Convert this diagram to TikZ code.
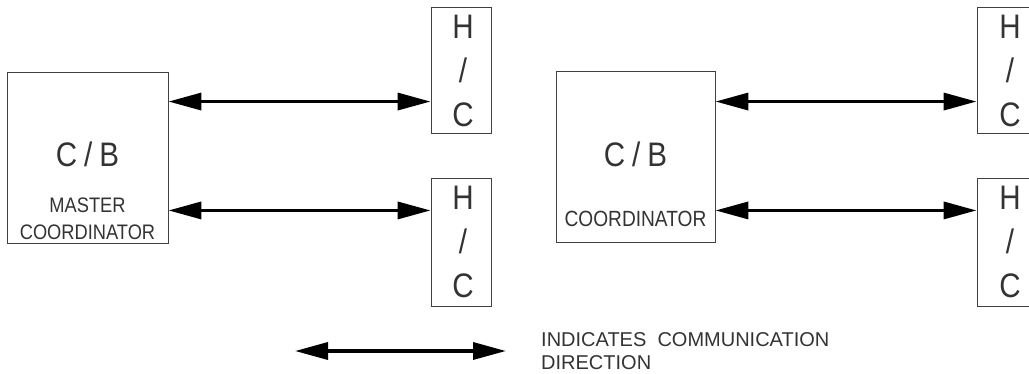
\documentclass[tikz,border=0pt]{standalone}
\usepackage{fontspec}
\setmainfont{Liberation Sans}[FakeStretch=0.87]
\newfontfamily\legfont{Liberation Sans}
\usetikzlibrary{arrows.meta}

\tikzset{
  box/.style={draw=black!75, line width=0.9pt, inner sep=0pt},
  comm/.style={line width=3.5pt,
    {Triangle[length=33pt,width=17pt]}-{Triangle[length=33pt,width=17pt]}},
  txt/.style={text=black!80, inner sep=0pt, font=\fontsize{21}{24}\selectfont},
  bigtxt/.style={text=black!80, inner sep=0pt, align=center,
    font=\fontsize{34}{44}\selectfont},
}

\begin{document}
\begin{tikzpicture}[x=1pt,y=-1pt]
    \useasboundingbox (0,0) rectangle (1029,374);
    % C/B boxes
    \node[box, minimum width=161pt, minimum height=171pt] (cbm) at (87.5,157.5) {};
    \node[box, minimum width=159pt, minimum height=171pt] (cbc) at (635.5,156.5) {};
    % H/C boxes
    \node[box, minimum width=60pt, minimum height=126pt] (hc1) at (461,70) {};
    \node[box, minimum width=60pt, minimum height=128pt] (hc2) at (461,242) {};
    \node[box, minimum width=60pt, minimum height=126pt] (hc3) at (1007,70) {};
    \node[box, minimum width=60pt, minimum height=128pt] (hc4) at (1007,242) {};
    % box texts
    \node[bigtxt, anchor=base] (cbmlbl) at (87.5,167) {C\hspace{7pt}/\hspace{7pt}B};
    \node[bigtxt, anchor=base] (cbclbl) at (635.5,167) {C\hspace{7pt}/\hspace{7pt}B};
    \node[txt, anchor=base] (mst) at (87.5,213) {MASTER};
    \node[txt, anchor=base] (crdm) at (87.5,240) {COORDINATOR};
    \node[txt, anchor=base, font=\fontsize{22}{24}\selectfont] (crdc) at (635.5,227) {COORDINATOR};
    \node[bigtxt, anchor=north] (hc1lbl) at ([xshift=2pt,yshift=-8pt]hc1.north) {H\\/\\C};
    \node[bigtxt, anchor=north] (hc2lbl) at ([xshift=2pt,yshift=-8pt]hc2.north) {H\\/\\C};
    \node[bigtxt, anchor=north] (hc3lbl) at ([xshift=3pt,yshift=-8pt]hc3.north) {H\\/\\C};
    \node[bigtxt, anchor=north] (hc4lbl) at ([xshift=3pt,yshift=-8pt]hc4.north) {H\\/\\C};
    % communication arrows
    \draw[comm] ([yshift=-30pt]cbm.north east) -- ([yshift=-30pt]cbm.north east -| hc1.west);
    \draw[comm] ([yshift=33pt]cbm.south east) -- ([yshift=33pt]cbm.south east -| hc2.west);
    \draw[comm] ([yshift=-31pt]cbc.north east) -- ([yshift=-31pt]cbc.north east -| hc3.west);
    \draw[comm] ([yshift=32pt]cbc.south east) -- ([yshift=32pt]cbc.south east -| hc4.west);
    % legend
    \coordinate (legl) at (295,351);
    \coordinate (legr) at (506,351);
    \draw[comm] (legl) -- (legr);
    \node[txt, anchor=base west, align=left, font=\legfont\fontsize{20}{23}\selectfont] (legtxt) at (541,369)
      {INDICATES\ \ COMMUNICATION\\DIRECTION};
\end{tikzpicture}
\end{document}
